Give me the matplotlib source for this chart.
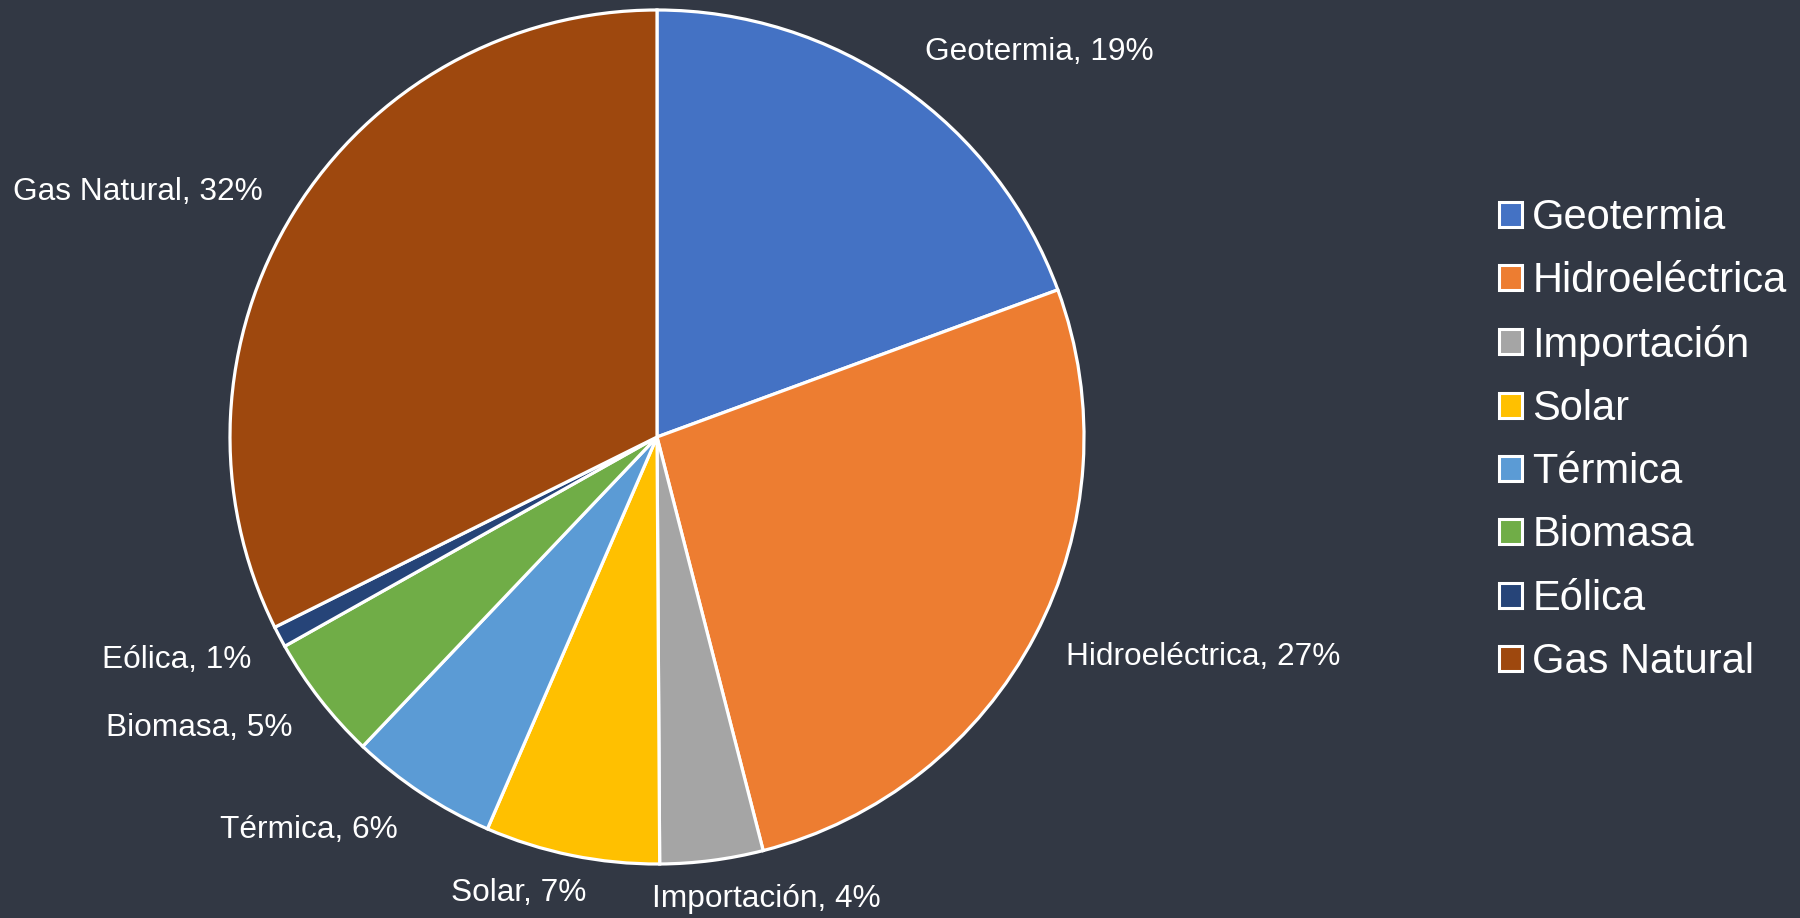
import matplotlib
matplotlib.use("Agg")
import matplotlib.pyplot as plt
from matplotlib.patches import Patch

# ---- data ----
categories = ["Geotermia", "Hidroeléctrica", "Importación", "Solar",
              "Térmica", "Biomasa", "Eólica", "Gas Natural"]
values = [19.4, 26.6, 3.9, 6.6, 5.6, 4.75, 0.8, 32.35]
pct_labels = ["19%", "27%", "4%", "7%", "6%", "5%", "1%", "32%"]
colors = ["#4472C4", "#ED7D31", "#A5A5A5", "#FFC000",
          "#5B9BD5", "#70AD47", "#264478", "#9E480E"]

# ---- layout (pixel coordinates, origin bottom-left) ----
W, H = 1800, 918
BG = "#323844"
center = (657, H - 437)
radius = 427
label_pos = [(1039, H - 52), (1203, H - 657), (766, H - 899), (519, H - 893),
             (309, H - 830), (199, H - 728), (177, H - 660), (138, H - 192)]

plt.rcParams["font.family"] = ["Liberation Sans", "DejaVu Sans"]

fig = plt.figure(figsize=(W / 100, H / 100), dpi=100, facecolor=BG)
ax = fig.add_axes([0, 0, 1, 1])
ax.set_facecolor(BG)

wedges, _ = ax.pie(values, colors=colors, startangle=90, counterclock=False,
                   center=center, radius=radius, frame=True,
                   wedgeprops=dict(edgecolor="white", linewidth=2.3))
ax.set_xlim(0, W)
ax.set_ylim(0, H)
ax.axis("off")

for cat, p, (x, y) in zip(categories, pct_labels, label_pos):
    ax.text(x, y, f"{cat}, {p}", color="white", fontsize=22.8,
            ha="center", va="center")

handles = [Patch(facecolor=c, edgecolor="white", linewidth=2.2) for c in colors]
fig.legend(handles, categories, loc="center left",
           bbox_to_anchor=(1499 / W, (H - 440) / H),
           frameon=False, fontsize=30, labelcolor="white",
           handlelength=0.55, handleheight=0.55, handletextpad=0.25,
           labelspacing=0.56, borderpad=0, borderaxespad=0)

fig.savefig("out.png", dpi=100, facecolor=BG)
